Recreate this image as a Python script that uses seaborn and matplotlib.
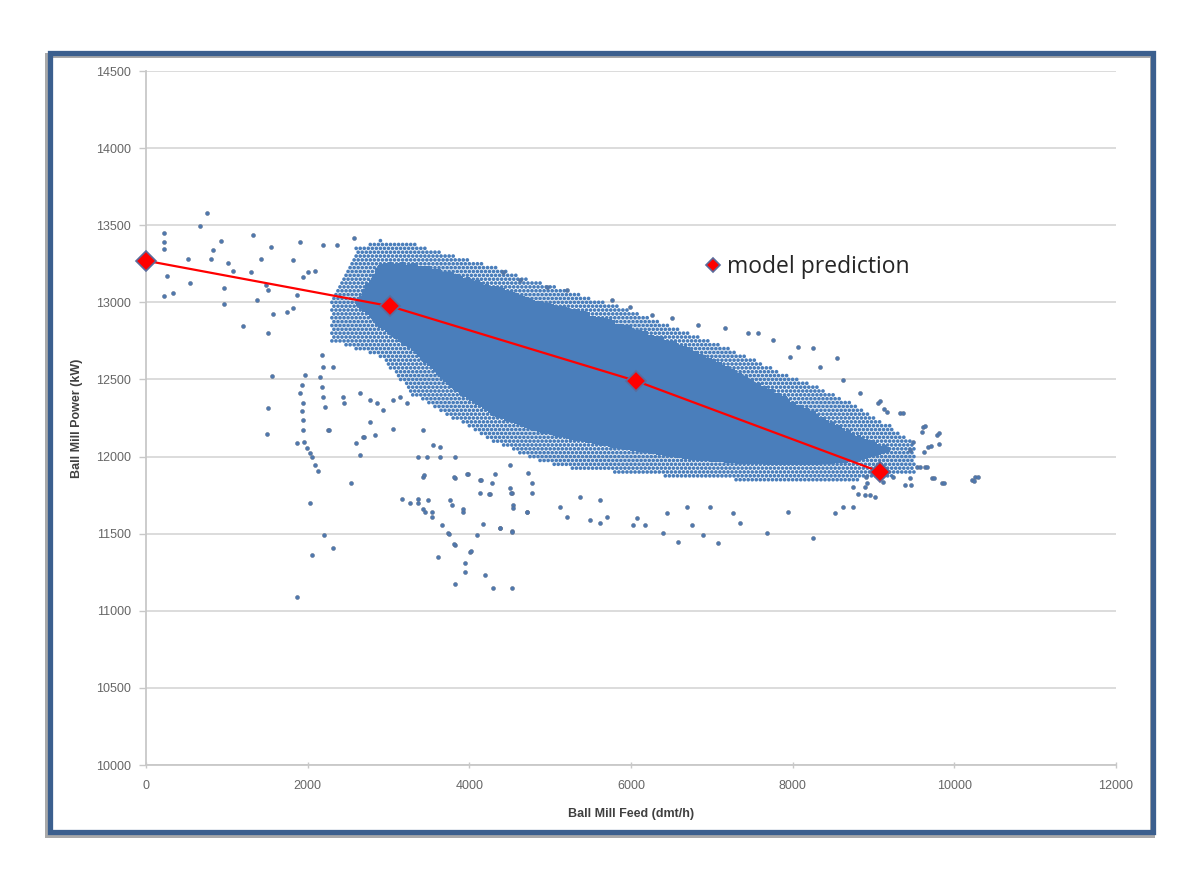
import numpy as np
import pandas as pd
import matplotlib
matplotlib.use("Agg")
import matplotlib.pyplot as plt
from matplotlib.lines import Line2D
from matplotlib.patches import Rectangle
import seaborn as sns

# ---------------- data ----------------
# model prediction (Ball Mill Feed dmt/h, Ball Mill Power kW)
model_feed = [0, 3020, 6065, 9085]
model_power = [13270, 12975, 12490, 11900]

# outline of the dense measurement cloud, per feed column (kW bounds)
cloud_feed    = [2300, 2600, 2900, 3300, 3800, 4300, 4800, 5300, 5800, 6300, 6800, 7300, 7800, 8300, 8800, 9200, 9500]
core_low      = [12900, 13000, 12850, 12700, 12450, 12280, 12180, 12120, 12070, 12030, 11990, 11970, 11960, 11960, 11980, 12050, 12000]
core_high     = [12900, 13000, 13250, 13250, 13180, 13100, 13020, 12950, 12870, 12780, 12680, 12550, 12410, 12270, 12130, 12050, 12000]
halo_low      = [12750, 12700, 12650, 12400, 12250, 12100, 11980, 11920, 11900, 11880, 11860, 11850, 11845, 11845, 11850, 11870, 11900]
halo_high     = [13000, 13350, 13400, 13380, 13300, 13230, 13140, 13060, 12980, 12880, 12790, 12680, 12560, 12450, 12330, 12200, 12080]

# individual scattered measurements outside the dense cloud
outlier_feed = [
    755, 668, 223, 223, 223, 928, 1324, 1546, 1905, 2190, 2363, 2573, 520, 804, 829, 1014, 1423, 1818,
    260, 545, 965, 1076, 1299, 1484, 1509, 334, 223, 965, 1373, 1571, 1744, 1818, 1868, 1942, 2004, 2091,
    1200, 1509, 1559, 1509, 1497, 1967, 1930, 1905, 1942, 1930, 1942, 1942, 1868, 1955, 1992, 2029, 2054,
    2091, 2128, 2153, 2177, 2190, 2214, 2251, 2313, 2437, 2449, 2536, 2029, 2202, 2054, 2313, 1868, 2177, 2190,
    2647, 2771, 2858, 2932, 3055, 3142, 3229, 2771, 2833, 3055, 2684, 2647, 3427, 3550, 3637, 3365, 3476,
    3637, 3822, 3427, 3167, 3266, 3365, 3489, 3451, 3538, 3785, 3921, 3662, 3736, 3822, 4008, 3612, 3946,
    3946, 3822, 4194, 4292, 4528, 4169, 4379, 4528, 4094, 4132, 4255, 4503, 4317, 4540, 4713, 3822, 3983,
    4132, 4503, 4725, 4775, 4775,
    4528, 4540, 4713, 4379, 4528, 5122, 5208, 5369, 5493, 5617, 5617, 5703, 6074, 6025, 6173, 6396, 6582,
    6755, 6891, 7077, 6445, 6693, 6978, 7262, 7349, 7683, 7943, 8252, 8524, 8746, 8957, 9018,
    6508, 6829, 7163, 7448, 7571, 7757, 8066, 8549, 8623, 8833, 9056, 9168, 9328, 9613, 9786, 9675, 9452,
    9539, 9638, 9724, 9848, 10219, 10256, 9390, 9242, 8920, 8906, 8252, 8338, 7967, 5988, 6260, 5765, 5208,
    4961, 4627, 4416,
    2264, 2598, 2697, 3365, 3427, 3538, 3748, 3810, 4020, 4243, 4280, 3921, 3761, 3810, 3971, 4144, 4515, 3439,
    9081, 9131, 9366, 9638, 9811, 9601, 9712, 9811, 9625, 9489, 9576, 9663, 9750, 9873, 10244, 10293, 9452,
    9464, 9118, 8895, 8808, 8622, 8746, 8895,
]
outlier_power = [
    13580, 13495, 13450, 13390, 13345, 13400, 13435, 13360, 13390, 13370, 13370, 13420, 13280, 13280, 13340, 13255, 13280, 13275,
    13170, 13125, 13095, 13200, 13195, 13110, 13080, 13060, 13040, 12990, 13015, 12925, 12935, 12965, 13045, 13165, 13195, 13205,
    12845, 12800, 12520, 12315, 12145, 12530, 12465, 12410, 12350, 12295, 12235, 12170, 12090, 12095, 12055, 12025, 11995,
    11945, 11905, 12515, 12450, 12385, 12320, 12170, 12580, 12385, 12345, 11830, 11700, 11490, 11360, 11405, 11090, 12660, 12580,
    12410, 12365, 12345, 12300, 12365, 12385, 12345, 12225, 12140, 12180, 12125, 12010, 12170, 12075, 12060, 11995, 11995,
    11995, 11995, 11865, 11725, 11700, 11700, 11720, 11640, 11640, 11685, 11640, 11555, 11505, 11425, 11380, 11350, 11310,
    11250, 11175, 11235, 11150, 11145, 11565, 11535, 11520, 11490, 11765, 11760, 11795, 11890, 11685, 11640, 11860, 11890,
    11850, 11945, 11895, 11830, 11765,
    11765, 11665, 11640, 11535, 11510, 11670, 11610, 11740, 11590, 11570, 11720, 11610, 11600, 11555, 11555, 11505, 11445,
    11555, 11490, 11440, 11635, 11670, 11670, 11635, 11570, 11505, 11640, 11475, 11635, 11670, 11750, 11740,
    12900, 12855, 12835, 12800, 12800, 12755, 12710, 12640, 12495, 12410, 12345, 12290, 12280, 12190, 12140, 12060, 12040,
    11930, 11930, 11860, 11830, 11850, 11870, 11815, 11865, 11830, 11865, 12705, 12580, 12645, 12970, 12920, 13015, 13080,
    13100, 13145, 13195,
    12170, 12090, 12130, 11725, 11660, 11610, 11500, 11430, 11390, 11760, 11830, 11660, 11720, 11870, 11890, 11850, 11765, 11880,
    12360, 12310, 12280, 12200, 12150, 12160, 12070, 12080, 12030, 12095, 11930, 11930, 11860, 11830, 11840, 11870, 11860,
    11815, 11835, 11750, 11760, 11670, 11800, 11800,
]

x_ticks = [0, 2000, 4000, 6000, 8000, 10000, 12000]
y_ticks = [10000, 10500, 11000, 11500, 12000, 12500, 13000, 13500, 14000, 14500]

# ---------------- build the cloud tables ----------------
core_pts = []
for fx in np.arange(cloud_feed[0], cloud_feed[-1] + 1, 40):
    lo = np.interp(fx, cloud_feed, core_low)
    hi = np.interp(fx, cloud_feed, core_high)
    for fy in np.arange(lo, hi, 20):
        core_pts.append((fx, fy))
core_df = pd.DataFrame(core_pts, columns=["feed", "power"])

halo_pts = []
for j, fy in enumerate(np.arange(11800, 13450, 25)):
    shift = 25 if j % 2 else 0
    for fx in np.arange(cloud_feed[0] + shift, cloud_feed[-1] + 1, 50):
        lo = np.interp(fx, cloud_feed, halo_low)
        hi = np.interp(fx, cloud_feed, halo_high)
        if lo <= fy <= hi:
            halo_pts.append((fx, fy))
halo_df = pd.DataFrame(halo_pts, columns=["feed", "power"])

out_df = pd.DataFrame({"feed": outlier_feed, "power": outlier_power})
model_df = pd.DataFrame({"feed": model_feed, "power": model_power})

# ---------------- figure ----------------
sns.set_style("white")
plt.rcParams["font.family"] = ["Liberation Sans", "DejaVu Sans"]

fig = plt.figure(figsize=(11.92, 8.82), dpi=100)
ax = fig.add_axes([146 / 1192, 1 - 765 / 882, (1116 - 146) / 1192, (765 - 71) / 882])

dot = "#4a7ebb"
sns.scatterplot(data=halo_df, x="feed", y="power", ax=ax, s=7, color=dot,
                edgecolor="none", linewidth=0, zorder=2, legend=False)
sns.scatterplot(data=core_df, x="feed", y="power", ax=ax, s=10, marker="s", color=dot,
                edgecolor="none", linewidth=0, zorder=2, legend=False)
sns.scatterplot(data=out_df, x="feed", y="power", ax=ax, s=8, color="#4d78b0",
                edgecolor="#5d6f8c", linewidth=0.4, zorder=2, legend=False)

sns.lineplot(data=model_df, x="feed", y="power", ax=ax, color="#ff0000", lw=1.6,
             marker="D", markersize=10, markerfacecolor="#ff0000",
             markeredgecolor="#5b6b9b", markeredgewidth=1.2, zorder=5, legend=False,
             clip_on=False)

ax.set_xlim(0, 12000)
ax.set_ylim(10000, 14500)
ax.set_xticks(x_ticks)
ax.set_yticks(y_ticks)
ax.set_xticklabels([str(v) for v in x_ticks])
ax.set_yticklabels([str(v) for v in y_ticks])

ax.grid(axis="y", color="#d9d9d9", lw=1.3, zorder=0)
ax.grid(axis="x", visible=False)
ax.set_axisbelow(True)
for side in ["top", "right"]:
    ax.spines[side].set_visible(False)
for side in ["left", "bottom"]:
    ax.spines[side].set_color("#c8c8c8")
    ax.spines[side].set_linewidth(1.3)

ax.tick_params(axis="y", direction="out", length=5, width=1, color="#c8c8c8",
               labelsize=9, labelcolor="#666666", pad=6, left=True)
ax.tick_params(axis="x", direction="inout", length=5, width=1, color="#c8c8c8",
               labelsize=9, labelcolor="#666666", pad=8, bottom=True)

ax.set_xlabel("Ball Mill Feed (dmt/h)", fontsize=9, fontweight="bold", color="#404040")
ax.set_ylabel("Ball Mill Power (kW)", fontsize=9, fontweight="bold", color="#404040")
ax.xaxis.set_label_coords(0.5, -(808 - 765) / 694)
ax.yaxis.set_label_coords(-(146 - 83) / 970, 0.5)

handle = Line2D([], [], linestyle="none", marker="D", markersize=7.5,
                markerfacecolor="#ff0000", markeredgecolor="#5b6b9b", markeredgewidth=1.2)
ax.legend(handles=[handle], labels=["model prediction"], frameon=False,
          loc="center left", bbox_to_anchor=((706 - 146) / 970, 1 - (267 - 71) / 694),
          prop={"family": "Open Sans", "size": 16.5}, handlelength=0.6, handletextpad=0.3,
          borderpad=0, borderaxespad=0)

# framed border with a soft shadow
shadow = Rectangle((46.5 / 1192, 1 - 835 / 882), (1152 - 46.5) / 1192, (835 - 55) / 882,
                   transform=fig.transFigure, fill=False, ec="#a9a9a9", lw=3.6, zorder=0)
frame = Rectangle((49.5 / 1192, 1 - 832 / 882), (1153 - 49.5) / 1192, (832 - 53) / 882,
                  transform=fig.transFigure, fill=False, ec="#3b5f8e", lw=3.8, zorder=1)
fig.add_artist(shadow)
fig.add_artist(frame)

fig.savefig("out.png", dpi=100, facecolor="white")
